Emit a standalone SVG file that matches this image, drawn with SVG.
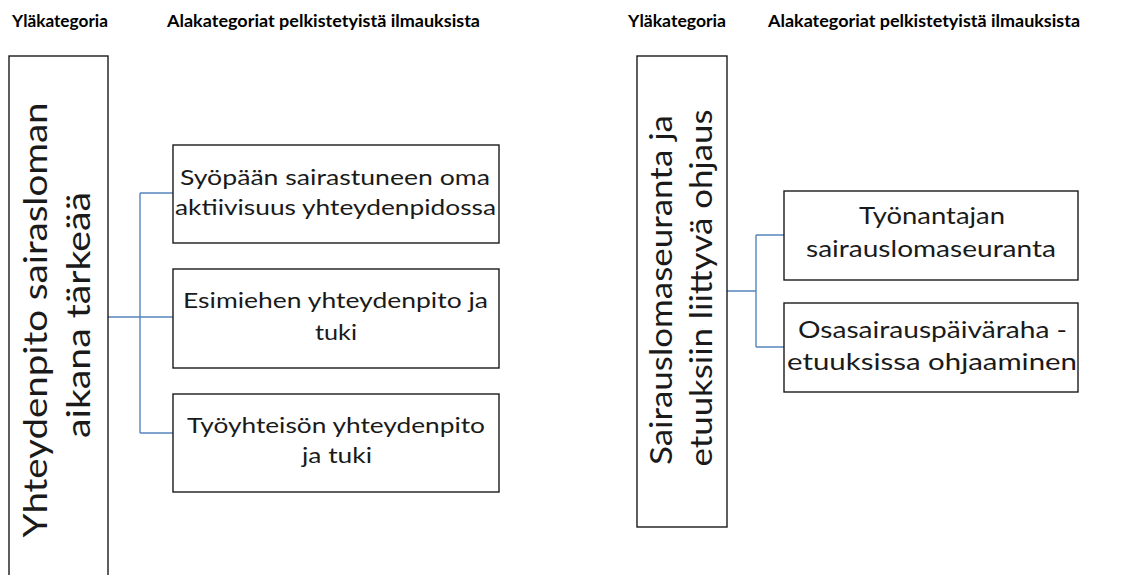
<svg xmlns="http://www.w3.org/2000/svg" width="1141" height="575" viewBox="0 0 1141 575">
  <style>
    .bg { fill: #ffffff; }
    .box { fill: #ffffff; stroke: #1a1a1a; stroke-width: 1.4; }
    .head { font-family: Lato, "Liberation Sans", sans-serif; font-weight: bold; font-size: 17px; fill: #000000; }
    .lbl { font-family: Lato, "Liberation Sans", sans-serif; font-size: 22px; fill: #1a1a1a; text-anchor: middle; }
    .lbl2 { font-family: Lato, "Liberation Sans", sans-serif; font-size: 23.5px; fill: #1a1a1a; text-anchor: middle; }
    .vert { font-family: Lato, "Liberation Sans", sans-serif; font-size: 32.5px; fill: #1a1a1a; text-anchor: middle; }
    .vert2 { font-family: Lato, "Liberation Sans", sans-serif; font-size: 30px; fill: #1a1a1a; text-anchor: middle; }
    .conn { fill: none; stroke: #5585bd; stroke-width: 1.4; }
  </style>
  <rect class="bg" x="0" y="0" width="1141" height="575"/>

  <!-- column headings -->
  <g id="headings">
    <text class="head" x="12" y="27" textLength="96" lengthAdjust="spacingAndGlyphs">Yläkategoria</text>
    <text class="head" x="167" y="27" textLength="313" lengthAdjust="spacingAndGlyphs">Alakategoriat pelkistetyistä ilmauksista</text>
    <text class="head" x="628" y="27" textLength="98" lengthAdjust="spacingAndGlyphs">Yläkategoria</text>
    <text class="head" x="768" y="27" textLength="312" lengthAdjust="spacingAndGlyphs">Alakategoriat pelkistetyistä ilmauksista</text>
  </g>

  <!-- connectors -->
  <g id="connectors">
    <path class="conn" d="M108,317 H140 M140,193 V433 M140,193 H173 M140,317 H173 M140,433 H173"/>
    <path class="conn" d="M727,291 H756 M756,235 V347 M756,235 H784 M756,347 H784"/>
  </g>

  <!-- left category -->
  <g id="cat-yhteydenpito">
    <rect class="box" x="9" y="56" width="99" height="540"/>
    <text class="vert" transform="translate(47,320) rotate(-90)" x="0" y="0" textLength="435" lengthAdjust="spacingAndGlyphs">Yhteydenpito sairasloman</text>
    <text class="vert" transform="translate(90,315) rotate(-90)" x="0" y="0" textLength="246" lengthAdjust="spacingAndGlyphs">aikana tärkeää</text>
  </g>

  <g id="sub-oma-aktiivisuus">
    <rect class="box" x="173" y="145" width="326" height="98"/>
    <text class="lbl" x="335" y="185" textLength="310" lengthAdjust="spacingAndGlyphs">Syöpään sairastuneen oma</text>
    <text class="lbl" x="335.5" y="215" textLength="321" lengthAdjust="spacingAndGlyphs">aktiivisuus yhteydenpidossa</text>
  </g>

  <g id="sub-esimies">
    <rect class="box" x="173" y="269" width="326" height="99"/>
    <text class="lbl" x="335.5" y="308" textLength="305" lengthAdjust="spacingAndGlyphs">Esimiehen yhteydenpito ja</text>
    <text class="lbl" x="336" y="340" textLength="42" lengthAdjust="spacingAndGlyphs">tuki</text>
  </g>

  <g id="sub-tyoyhteiso">
    <rect class="box" x="173" y="394" width="326" height="98"/>
    <text class="lbl" x="336" y="433" textLength="298" lengthAdjust="spacingAndGlyphs">Työyhteisön yhteydenpito</text>
    <text class="lbl" x="337" y="463" textLength="70" lengthAdjust="spacingAndGlyphs">ja tuki</text>
  </g>

  <!-- right category -->
  <g id="cat-sairauslomaseuranta">
    <rect class="box" x="637" y="56" width="90" height="471"/>
    <text class="vert2" transform="translate(672,290) rotate(-90)" x="0" y="0" textLength="350" lengthAdjust="spacingAndGlyphs">Sairauslomaseuranta ja</text>
    <text class="vert2" transform="translate(712,288) rotate(-90)" x="0" y="0" textLength="357" lengthAdjust="spacingAndGlyphs">etuuksiin liittyvä ohjaus</text>
  </g>

  <g id="sub-seuranta">
    <rect class="box" x="784" y="191" width="294" height="89"/>
    <text class="lbl2" x="932" y="224" textLength="146" lengthAdjust="spacingAndGlyphs">Työnantajan</text>
    <text class="lbl2" x="931" y="257" textLength="250" lengthAdjust="spacingAndGlyphs">sairauslomaseuranta</text>
  </g>

  <g id="sub-osasairauspaivaraha">
    <rect class="box" x="784" y="303" width="294" height="89"/>
    <text class="lbl2" x="932.5" y="338" textLength="269" lengthAdjust="spacingAndGlyphs">Osasairauspäiväraha -</text>
    <text class="lbl2" x="932" y="370" textLength="290" lengthAdjust="spacingAndGlyphs">etuuksissa ohjaaminen</text>
  </g>
</svg>
